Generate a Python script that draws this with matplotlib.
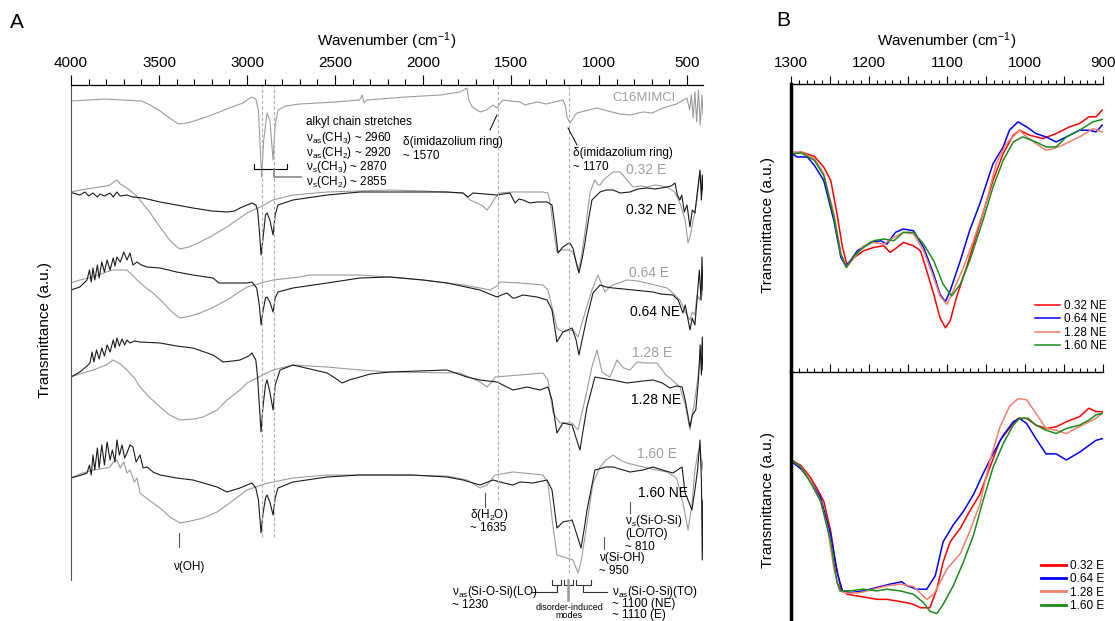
import matplotlib
matplotlib.use('Agg')
import matplotlib.pyplot as plt
from matplotlib.ticker import MultipleLocator

# Arial-like font, Greek from the same family
plt.rcParams['font.family'] = ['Liberation Sans', 'DejaVu Sans']
plt.rcParams['mathtext.fontset'] = 'custom'
plt.rcParams['mathtext.rm'] = 'Liberation Sans'
plt.rcParams['mathtext.it'] = 'Liberation Sans:italic'

# ---------------- panel A data (wavenumber, transmittance relative to own baseline, a.u.) ----------------
c16_wn = [4000, 3900, 3800, 3710, 3600, 3550, 3494, 3440, 3390, 3340, 3300, 3200, 3100, 3023, 2975,
          2950, 2935, 2917, 2905, 2886, 2870, 2852, 2840, 2824, 2780, 2700, 2500, 2360, 2345, 2335,
          2320, 2100, 1900, 1790, 1750, 1740, 1720, 1676, 1640, 1602, 1580, 1565, 1545, 1500, 1449,
          1420, 1400, 1350, 1300, 1205, 1190, 1182, 1165, 1140, 1125, 1060, 1011, 950, 880, 824,
          750, 700, 636, 600, 560, 520, 500, 485, 475, 465, 455, 445, 435, 425, 415, 409]
c16_t = [-1, 0, 1, 0, -1, -5, -11, -18, -24, -23, -21, -15, -8, -3, 3,
         1, -10, -77, -40, -13, -20, -60, -25, -10, -6, -4, -2, 0, 5, -3,
         0, 3, 5, 8, 12, 0, -7, -12, -10, -5, -8, -4, 0, -1, -2,
         -5, -4, -2, -4, 0, -6, -17, -23, -16, -13, -10, -8, -11, -14, -15,
         -12, -13, -8, -6, -4, 0, 2, -10, 5, -18, 8, -22, 10, -25, 5, -15]

ne032_wn = [4000, 3989, 3950, 3920, 3900, 3875, 3850, 3835, 3810, 3778, 3760, 3740, 3720, 3682, 3650,
            3591, 3494, 3400, 3307, 3200, 3114, 3070, 3040, 2972, 2950, 2940, 2930, 2920, 2910, 2895,
            2886, 2870, 2852, 2840, 2824, 2739, 2545, 2358, 2188, 1864, 1773, 1744, 1716, 1580, 1506,
            1477, 1455, 1432, 1392, 1352, 1295, 1267, 1250, 1233, 1205, 1180, 1165, 1148, 1130, 1114,
            1095, 1080, 1060, 1040, 994, 960, 920, 880, 824, 780, 727, 680, 614, 590, 568,
            555, 540, 530, 515, 500, 483, 470, 455, 440, 426, 418, 413, 409]
ne032_t = [-1, -1, -3, 0, -4, -1, -5, -2, -4, -1, -5, 0, -4, -3, -5,
           -6, -10, -13, -16, -19, -20, -19, -16, -11, -13, -18, -38, -63, -48, -23,
           -21, -28, -43, -23, -13, -8, -3, 0, 0, 0, -1, -5, -1, -3, -1,
           -11, -7, -8, -11, -10, -10, -13, -35, -61, -55, -52, -51, -56, -70, -81,
           -66, -51, -28, -8, 0, 2, 2, -1, 0, 3, 4, 3, 5, 6, 9,
           -3, -8, -3, -20, -13, -35, -18, -21, 2, 22, -8, 17, 2]

e032_wn = [4000, 3950, 3875, 3800, 3778, 3750, 3739, 3720, 3682, 3640, 3608, 3550, 3494, 3440, 3398,
           3381, 3330, 3267, 3200, 3114, 3000, 2926, 2852, 2739, 2545, 2188, 2000, 1773, 1733, 1693,
           1660, 1636, 1615, 1591, 1562, 1489, 1318, 1290, 1275, 1261, 1239, 1210, 1176, 1148, 1130,
           1119, 1105, 1080, 1060, 1051, 1035, 1023, 1006, 994, 975, 955, 920, 881, 860, 841,
           807, 760, 727, 680, 614, 570, 540, 510, 494, 480, 465, 455, 440, 426, 415, 409]
e032_t = [0, 2, 4, 6, 7, 11, 12, 8, 4, -2, -8, -21, -35, -48, -55,
          -57, -55, -50, -44, -35, -21, -15, -8, -3, 0, 2, 1, -1, -8, -11,
          -14, -18, -13, -6, -1, 0, 0, -1, -13, -35, -60, -58, -58, -60, -70,
          -78, -70, -41, -13, -1, 7, 12, 7, 7, 12, 15, 20, 20, 16, 12,
          5, 6, 5, 7, 5, 0, -11, -28, -51, -43, -28, -21, -3, 20, -3, 12]

ne064_wn = [4000, 3950, 3920, 3909, 3895, 3885, 3875, 3865, 3850, 3840, 3825, 3810, 3795, 3778, 3760,
            3750, 3739, 3720, 3700, 3682, 3665, 3648, 3625, 3600, 3568, 3494, 3400, 3307, 3193, 3160,
            3100, 3000, 2972, 2945, 2930, 2920, 2910, 2895, 2886, 2870, 2852, 2840, 2824, 2739, 2545,
            2358, 2188, 2000, 1864, 1676, 1580, 1540, 1523, 1490, 1477, 1432, 1352, 1295, 1267, 1239,
            1205, 1153, 1130, 1114, 1090, 1068, 1034, 994, 960, 920, 860, 807, 750, 693, 650,
            580, 550, 523, 510, 483, 470, 455, 443, 430, 420, 415, 409]
ne064_t = [-13, -10, -5, -3, 7, -5, 9, -3, 12, -1, 15, 5, 17, 7, 19,
           11, 20, 15, 25, 17, 24, 12, 15, 12, 10, 9, 5, 2, -1, -6,
           -6, -6, -5, -11, -28, -48, -35, -21, -20, -25, -35, -21, -15, -11, -6,
           -1, 0, -3, -6, -13, -20, -17, -16, -21, -21, -18, -20, -23, -33, -65,
           -55, -51, -63, -78, -58, -40, -16, -8, -10, -11, -12, -13, -14, -15, -17,
           -18, -23, -36, -28, -53, -41, -48, -23, 7, -23, 20, -13]

e064_wn = [4000, 3950, 3875, 3800, 3761, 3682, 3640, 3625, 3580, 3534, 3480, 3438, 3398, 3381, 3320,
           3267, 3200, 3114, 3000, 2900, 2852, 2700, 2642, 2358, 2188, 2000, 1773, 1676, 1619, 1580,
           1562, 1450, 1318, 1290, 1267, 1239, 1205, 1148, 1119, 1100, 1080, 1040, 1006, 990, 966,
           940, 920, 841, 780, 727, 660, 614, 580, 540, 510, 483, 470, 455, 443, 426, 415, 409]
e064_t = [-6, -3, 0, 5, 7, 7, 0, -3, -10, -16, -25, -33, -39, -41, -39,
          -36, -31, -23, -10, -5, -3, 0, 2, 2, 0, -3, -8, -11, -13, -9,
          -5, -6, -8, -13, -30, -51, -55, -53, -60, -48, -36, -13, 2, -5, -15,
          -10, -8, -3, -4, -6, -9, -11, -16, -23, -35, -43, -35, -38, -18, -23, -3, -18]

ne128_wn = [4000, 3950, 3909, 3892, 3880, 3870, 3855, 3840, 3825, 3810, 3795, 3778, 3760, 3750, 3739,
            3725, 3710, 3695, 3682, 3665, 3640, 3608, 3494, 3400, 3307, 3193, 3136, 3080, 3040, 2990,
            2972, 2950, 2940, 2930, 2920, 2910, 2895, 2886, 2870, 2852, 2840, 2812, 2739, 2545, 2500,
            2460, 2420, 2358, 2300, 2188, 1864, 1750, 1676, 1580, 1489, 1409, 1335, 1290, 1267, 1239,
            1205, 1153, 1130, 1108, 1090, 1068, 1023, 960, 920, 841, 750, 693, 640, 597, 560,
            528, 510, 483, 470, 450, 435, 425, 418, 413, 409]
ne128_t = [-5, 0, 6, 9, 20, 10, 22, 13, 24, 16, 27, 20, 32, 24, 34,
           26, 33, 27, 32, 29, 31, 30, 29, 26, 24, 17, 10, 11, 12, 16,
           19, 12, -5, -33, -60, -36, -13, -8, -20, -38, -13, 2, 7, -1, -6,
           -11, -8, -5, -2, 0, 2, -5, -8, -10, -18, -15, -18, -15, -28, -61,
           -51, -53, -66, -78, -58, -35, -5, -7, -8, -11, -9, -8, -11, -16, -14,
           -15, -28, -55, -43, -38, -8, 27, -3, 35, 2]

e128_wn = [4000, 3950, 3875, 3800, 3761, 3720, 3682, 3640, 3608, 3550, 3494, 3440, 3381, 3300, 3250,
           3170, 3114, 3040, 3000, 2900, 2852, 2739, 2545, 2358, 2188, 1790, 1676, 1636, 1600, 1591,
           1450, 1318, 1290, 1261, 1222, 1153, 1119, 1100, 1080, 1040, 1011, 983, 938, 898, 860,
           824, 784, 740, 670, 620, 597, 540, 510, 483, 470, 455, 440, 426, 415, 409]
e128_t = [-5, -2, 2, 7, 12, 8, 2, -6, -15, -26, -35, -43, -48, -47, -45,
          -38, -28, -18, -11, -2, 2, 7, 5, 2, 0, -1, -10, -15, -8, -5,
          -3, -1, -8, -41, -51, -51, -58, -43, -28, 5, 22, 0, -5, 12, 4,
          2, 10, 9, 9, -3, -6, -15, -33, -58, -43, -28, -8, 12, 27, 7]

ne160_wn = [4000, 3940, 3909, 3895, 3885, 3875, 3865, 3850, 3840, 3825, 3810, 3795, 3778, 3765, 3750,
            3739, 3725, 3710, 3695, 3682, 3665, 3648, 3630, 3608, 3590, 3568, 3534, 3494, 3400, 3307,
            3170, 3114, 3040, 2972, 2950, 2935, 2920, 2910, 2895, 2886, 2870, 2852, 2840, 2824, 2739,
            2545, 2358, 2057, 1864, 1773, 1676, 1602, 1540, 1489, 1449, 1375, 1295, 1267, 1239, 1205,
            1153, 1125, 1102, 1085, 1068, 1023, 960, 920, 824, 750, 693, 640, 580, 528, 511,
            494, 472, 455, 440, 426, 418, 413, 409]
ne160_t = [-1, 2, 4, 12, 2, 22, 7, 29, 9, 32, 12, 35, 17, 27, 15,
           37, 22, 32, 19, 24, 32, 30, 15, 22, 9, 10, 5, 2, -1, -3,
           -10, -15, -11, -6, -11, -23, -56, -38, -21, -18, -25, -38, -21, -11, -5,
           0, 2, 2, 0, -3, -8, -3, -6, -8, -5, -6, -3, -13, -51, -45,
           -43, -58, -71, -53, -33, 7, 10, 10, 5, 7, 10, 7, 4, 10, -16,
           -23, -33, -13, 7, 37, -3, -83, -23]

e160_wn = [4000, 3950, 3875, 3800, 3778, 3760, 3739, 3720, 3700, 3682, 3665, 3640, 3625, 3608, 3580,
           3534, 3480, 3438, 3381, 3320, 3250, 3170, 3114, 3000, 2900, 2852, 2739, 2545, 2188, 1864,
           1750, 1676, 1636, 1591, 1489, 1318, 1290, 1261, 1239, 1182, 1148, 1119, 1100, 1080, 1034,
           994, 960, 920, 880, 841, 727, 614, 560, 540, 515, 494, 472, 455, 440, 426, 415, 409]
e160_t = [-1, 3, 7, 9, 10, 15, 17, 9, 15, 4, 7, -5, -1, -16, -20,
          -26, -33, -40, -46, -44, -41, -35, -28, -13, -7, -5, -1, 2, 2, 1,
          -3, -11, -8, 2, 5, 2, -6, -50, -78, -81, -83, -96, -83, -60, -6,
          10, 17, 22, 17, 14, 9, 5, -1, -13, -33, -53, -28, 7, 22, 30, 7, 17]

# ---------------- panel B data (zoom 1300-900 cm-1) ----------------
b_ne032_wn = [1298, 1287, 1270, 1258, 1249, 1241, 1234, 1228, 1219, 1207, 1194, 1181, 1173, 1164, 1156, 1143,
              1134, 1126, 1117, 1109, 1102, 1096, 1088, 1075, 1058, 1041, 1028, 1015, 1007, 994, 977, 960,
              943, 930, 918, 909, 901]
b_ne032_t = [64.8, 65.5, 64.2, 61.0, 57.0, 47.0, 37.0, 31.5, 34.0, 36.0, 37.0, 37.5, 35.5, 37.0, 38.5, 37.5,
             36.0, 30.0, 23.0, 16.0, 13.0, 15.0, 22.0, 31.0, 44.0, 57.0, 65.0, 70.5, 72.0, 70.5, 69.5, 71.0,
             73.0, 74.0, 76.0, 76.0, 78.0]
b_ne064_wn = [1298, 1292, 1279, 1270, 1258, 1245, 1236, 1230, 1224, 1215, 1198, 1185, 1177, 1166, 1156, 1143,
              1130, 1117, 1109, 1102, 1096, 1083, 1071, 1058, 1041, 1028, 1020, 1009, 998, 986, 973, 960,
              947, 930, 918, 909, 901]
b_ne064_t = [64.8, 64.0, 64.0, 61.5, 57.0, 45.0, 34.0, 31.5, 33.0, 36.0, 38.5, 39.0, 38.0, 41.5, 42.5, 42.0,
             37.0, 29.0, 23.0, 20.8, 24.0, 33.0, 42.0, 50.0, 62.0, 67.0, 72.0, 74.5, 73.0, 71.0, 70.0, 68.5,
             70.0, 72.0, 72.0, 71.5, 73.5]
b_ne128_wn = [1298, 1287, 1270, 1258, 1245, 1236, 1229, 1219, 1207, 1194, 1181, 1168, 1156, 1143, 1130, 1117,
              1109, 1100, 1092, 1079, 1066, 1049, 1037, 1024, 1007, 998, 986, 973, 964, 952, 939, 926,
              913, 901]
b_ne128_t = [65.5, 65.5, 63.5, 59.0, 47.0, 35.0, 31.2, 34.0, 37.5, 38.5, 38.0, 40.0, 41.5, 41.0, 36.0, 28.0,
             22.5, 20.0, 24.0, 31.0, 39.0, 51.0, 62.0, 68.0, 72.0, 70.0, 68.0, 66.0, 66.5, 67.5, 69.0, 70.5,
             72.5, 71.5]
b_ne160_wn = [1298, 1287, 1270, 1258, 1245, 1236, 1229, 1219, 1207, 1194, 1181, 1168, 1156, 1143, 1130, 1117,
              1105, 1094, 1083, 1071, 1054, 1041, 1028, 1015, 1003, 986, 973, 960, 947, 930, 913, 901]
b_ne160_t = [65.0, 65.2, 63.0, 58.5, 46.0, 35.0, 31.0, 34.5, 37.0, 39.0, 39.5, 39.0, 41.5, 41.5, 38.0, 33.0,
             26.0, 22.5, 26.0, 33.0, 45.0, 55.0, 63.0, 68.5, 70.0, 68.5, 67.0, 67.0, 70.0, 72.0, 74.5, 75.2]

b_e032_wn = [1298, 1287, 1275, 1266, 1258, 1249, 1243, 1236, 1228, 1215, 1202, 1190, 1177, 1164, 1151, 1143,
             1134, 1122, 1113, 1105, 1096, 1083, 1071, 1058, 1045, 1032, 1020, 1009, 998, 986, 973, 960,
             947, 930, 918, 909, 901]
b_e032_t = [48.0, 46.5, 43.0, 39.5, 36.0, 27.0, 18.0, 10.0, 8.5, 8.0, 7.5, 7.0, 7.0, 6.5, 6.0, 5.5,
            4.5, 4.5, 10.0, 18.0, 24.0, 28.0, 33.0, 38.0, 46.0, 54.0, 57.5, 60.5, 60.5, 58.5, 57.5, 58.0,
            59.5, 61.0, 63.5, 62.5, 62.5]
b_e064_wn = [1298, 1287, 1275, 1262, 1249, 1241, 1234, 1224, 1207, 1190, 1173, 1158, 1151, 1139, 1126, 1115,
             1105, 1092, 1079, 1066, 1054, 1041, 1028, 1015, 1007, 998, 986, 973, 960, 947, 930, 918,
             909, 901]
b_e064_t = [47.5, 45.5, 42.0, 37.0, 26.0, 15.0, 9.5, 9.0, 9.5, 10.5, 11.5, 12.2, 11.0, 10.0, 10.0, 14.0,
            24.0, 29.0, 33.0, 38.0, 44.0, 50.0, 55.5, 59.5, 60.5, 59.0, 54.5, 50.0, 50.0, 48.2, 50.5, 52.5,
            54.0, 54.5]
b_e128_wn = [1298, 1287, 1275, 1262, 1253, 1245, 1238, 1228, 1211, 1194, 1177, 1160, 1143, 1126, 1117, 1109,
             1100, 1083, 1071, 1058, 1045, 1032, 1020, 1009, 998, 986, 973, 960, 947, 935, 922, 909, 901]
b_e128_t = [48.0, 46.0, 42.0, 36.0, 28.0, 16.0, 9.5, 8.8, 9.0, 10.0, 11.0, 11.5, 10.8, 7.0, 8.5, 12.0,
            16.0, 20.5, 27.0, 35.0, 48.0, 58.0, 64.0, 66.3, 66.0, 62.0, 57.5, 57.0, 56.0, 57.5, 59.0, 60.5, 62.0]
b_e160_wn = [1298, 1287, 1275, 1262, 1249, 1241, 1236, 1224, 1207, 1190, 1177, 1160, 1143, 1130, 1122, 1113,
             1105, 1092, 1079, 1066, 1054, 1041, 1028, 1015, 1007, 996, 986, 973, 960, 947, 930, 918,
             909, 901]
b_e160_t = [48.0, 46.0, 41.5, 36.0, 24.0, 12.0, 9.5, 9.5, 10.0, 9.5, 10.0, 9.5, 8.5, 6.0, 3.5, 2.8,
            5.5, 11.0, 18.0, 26.0, 36.0, 46.0, 53.0, 58.5, 60.5, 60.5, 58.5, 57.0, 56.0, 57.5, 58.5, 60.0,
            61.5, 62.0]

b_labels = ['0.32', '0.64', '1.28', '1.60']
b_colors = ['#ff0000', '#0000ff', '#f4806c', '#1a8c1a']

GRAY = '#9c9c9c'
DARK = '#1a1a1a'
W, H = 1115, 621

fig = plt.figure(figsize=(W / 100, H / 100), dpi=100)

# ================= panel A =================
axA = fig.add_axes([71 / W, 0, (703 - 71) / W, (621 - 85) / H])
axA.set_xlim(4000, 409)
axA.set_ylim(0, 536)

# stacked spectra: offset of each pair
offsets = {'c16': 521, '0.32': 429, '0.64': 344, '1.28': 249, '1.60': 144}
pairs = [('0.32', e032_wn, e032_t, ne032_wn, ne032_t),
         ('0.64', e064_wn, e064_t, ne064_wn, ne064_t),
         ('1.28', e128_wn, e128_t, ne128_wn, ne128_t),
         ('1.60', e160_wn, e160_t, ne160_wn, ne160_t)]

axA.plot(c16_wn, [offsets['c16'] + v for v in c16_t], color=GRAY, lw=0.8)
for name, ewn, et, nwn, nt in pairs:
    off = offsets[name]
    axA.plot(ewn, [off + v for v in et], color=GRAY, lw=0.8)
    axA.plot(nwn, [off + v for v in nt], color=DARK, lw=0.8)

# dashed guide lines
dash = dict(colors='#b0b0b0', linestyles=(0, (3, 2)), lw=0.8)
axA.vlines([2917, 2847], 84, 536, **dash)
axA.vlines(1575, 121, 536, **dash)
axA.vlines(1172, 48, 536, **dash)

# spectrum names
axA.text(926, 523, 'C16MIMCl', color='#a0a0a0', fontsize=9.5, va='center')
lab_pos = {'0.32': (847, 451, 847, 411), '0.64': (830, 348, 824, 309),
           '1.28': (812, 268, 818, 221), '1.60': (784, 167, 778, 128)}
for name, (xe, ye, xn, yn) in lab_pos.items():
    axA.text(xe, ye, name + ' E', color='#a0a0a0', fontsize=10, va='center')
    axA.text(xn, yn, name + ' NE', color='black', fontsize=10, va='center')

# band assignments
ann = dict(fontsize=8.5, va='center', ha='left')
sub = lambda s: '$_{\\mathregular{' + s + '}}$'
axA.text(2665, 499, 'alkyl chain stretches', **ann)
alkyl = '\n'.join(['ν' + sub('as') + '(CH' + sub('3') + ') ~ 2960',
                   'ν' + sub('as') + '(CH' + sub('2') + ') ~ 2920',
                   'ν' + sub('s') + '(CH' + sub('3') + ') ~ 2870',
                   'ν' + sub('s') + '(CH' + sub('2') + ') ~ 2855'])
axA.text(2665, 461, alkyl, fontsize=8.5, va='center', ha='left', linespacing=0.9)
axA.plot([2960, 2960, 2775, 2775], [457, 452, 452, 457], color='k', lw=0.8)
axA.plot([2847, 2847, 2693], [452, 444, 444], color='#888888', lw=1.2)

axA.text(2114, 479, 'δ(imidazolium ring)', **ann)
axA.text(2114, 465, '~ 1570', **ann)
axA.plot([1619, 1580], [491, 506], color='k', lw=0.7)
axA.text(1148, 468, 'δ(imidazolium ring)', **ann)
axA.text(1148, 454, '~ 1170', **ann)
axA.plot([1176, 1125], [493, 476], color='k', lw=0.7)

axA.plot([3386, 3386], [88, 74], color='#555555', lw=0.8)
axA.text(3420, 54, 'ν(OH)', **ann)

axA.plot([1648, 1648], [128, 114], color='#555555', lw=0.8)
axA.text(1733, 106, 'δ(H' + sub('2') + 'O)', **ann)
axA.text(1733, 93, '~ 1635', **ann)

axA.plot([824, 824], [119, 108], color='#555555', lw=0.8)
axA.text(852, 100, 'ν' + sub('s') + '(Si-O-Si)', **ann)
axA.text(852, 87, '(LO/TO)', **ann)
axA.text(852, 74, '~ 810', **ann)

axA.plot([972, 972], [84, 72], color='#555555', lw=0.8)
axA.text(1000, 63, 'ν(Si-OH)', **ann)
axA.text(1000, 50, '~ 950', **ann)

# Si-O-Si brackets
for x0, x1 in [(1267, 1216), (1199, 1148), (1131, 1045)]:
    axA.plot([x0, x0, x1, x1], [41, 36, 36, 41], color='#333333', lw=0.8, clip_on=False)
axA.plot([1239, 1239, 1381], [36, 29, 29], color='#333333', lw=0.8)
axA.plot([1091, 1091, 955], [36, 29, 29], color='#333333', lw=0.8)
axA.plot([1176, 1176], [41, 21], color='#999999', lw=1.8)
axA.text(1835, 29, 'ν' + sub('as') + '(Si-O-Si)(LO)', **ann)
axA.text(1835, 16, '~ 1230', **ann)
axA.text(926, 29, 'ν' + sub('as') + '(Si-O-Si)(TO)', **ann)
axA.text(926, 17, '~ 1100 (NE)', **ann)
axA.text(926, 6, '~ 1110 (E)', **ann)
axA.text(1170, 14, 'disorder-induced', fontsize=6.5, ha='center', va='center')
axA.text(1170, 6, 'modes', fontsize=6.5, ha='center', va='center')

# axes styling
for s in ['right', 'bottom']:
    axA.spines[s].set_visible(False)
axA.spines['left'].set_bounds(41, 536)
axA.spines['left'].set_color('#555555')
axA.spines['top'].set_linewidth(0.9)
axA.set_yticks([])
axA.xaxis.tick_top()
axA.xaxis.set_label_position('top')
axA.xaxis.set_major_locator(MultipleLocator(500))
axA.xaxis.set_minor_locator(MultipleLocator(100))
axA.tick_params(axis='x', which='major', direction='out', length=7, width=0.8, labelsize=11, pad=4)
axA.tick_params(axis='x', which='minor', direction='out', length=4, width=0.8)
axA.set_xlabel('Wavenumber (cm$^{\\mathregular{-1}}$)', fontsize=11, labelpad=7)

# ================= panel B =================
axB1 = fig.add_axes([791 / W, (621 - 372) / H, (1103 - 791) / W, (372 - 84) / H])
axB2 = fig.add_axes([791 / W, 0, (1103 - 791) / W, (621 - 372) / H])

ne_sets = [(b_ne032_wn, b_ne032_t), (b_ne064_wn, b_ne064_t), (b_ne128_wn, b_ne128_t), (b_ne160_wn, b_ne160_t)]
e_sets = [(b_e032_wn, b_e032_t), (b_e064_wn, b_e064_t), (b_e128_wn, b_e128_t), (b_e160_wn, b_e160_t)]
for (wn, t), lab, col in zip(ne_sets, b_labels, b_colors):
    axB1.plot(wn, t, color=col, lw=1.1, label=lab + ' NE')
for (wn, t), lab, col in zip(e_sets, b_labels, b_colors):
    axB2.plot(wn, t, color=col, lw=1.1, label=lab + ' E')

axB1.set_ylim(-0.2, 85.8)
axB2.set_ylim(0.6, 74.2)
for ax in (axB1, axB2):
    ax.set_xlim(1300, 900)
    ax.set_yticks([])
    for s in ['right', 'bottom']:
        ax.spines[s].set_visible(False)
    ax.spines['left'].set_linewidth(2.5)
    ax.spines['top'].set_linewidth(1.0)
    ax.xaxis.tick_top()
    ax.xaxis.set_major_locator(MultipleLocator(50))
    ax.xaxis.set_minor_locator(MultipleLocator(10))
    ax.tick_params(axis='x', which='major', direction='out', length=6, width=0.8, labelsize=11, pad=4)
    ax.tick_params(axis='x', which='minor', direction='out', length=3, width=0.8)

axB1.set_xticks(range(1300, 899, -50))
axB1.set_xticklabels([str(v) if v % 100 == 0 else '' for v in range(1300, 899, -50)])
axB2.tick_params(axis='x', labeltop=False)
axB1.xaxis.set_label_position('top')
axB1.set_xlabel('Wavenumber (cm$^{\\mathregular{-1}}$)', fontsize=11, labelpad=7)

leg_kw = dict(frameon=False, fontsize=8.5, handlelength=2.1, handletextpad=0.35,
              labelspacing=0.12, borderpad=0, borderaxespad=0, loc='lower left')
axB1.legend(bbox_to_anchor=(0.782, 0.069), **leg_kw)
leg2 = axB2.legend(bbox_to_anchor=(0.801, 0.036), **leg_kw)
for line in leg2.get_lines():
    line.set_linewidth(2)

# y labels and panel letters
fig.text(45 / W, 1 - 330 / H, 'Transmittance (a.u.)', rotation=90, fontsize=11, ha='center', va='center')
fig.text(768 / W, 1 - 225 / H, 'Transmittance (a.u.)', rotation=90, fontsize=11, ha='center', va='center')
fig.text(768 / W, 1 - 500 / H, 'Transmittance (a.u.)', rotation=90, fontsize=11, ha='center', va='center')
fig.text(17 / W, 1 - 22 / H, 'A', fontsize=15, ha='center', va='center')
fig.text(783 / W, 1 - 20 / H, 'B', fontsize=15, ha='center', va='center')

fig.savefig('out.png', dpi=100)
